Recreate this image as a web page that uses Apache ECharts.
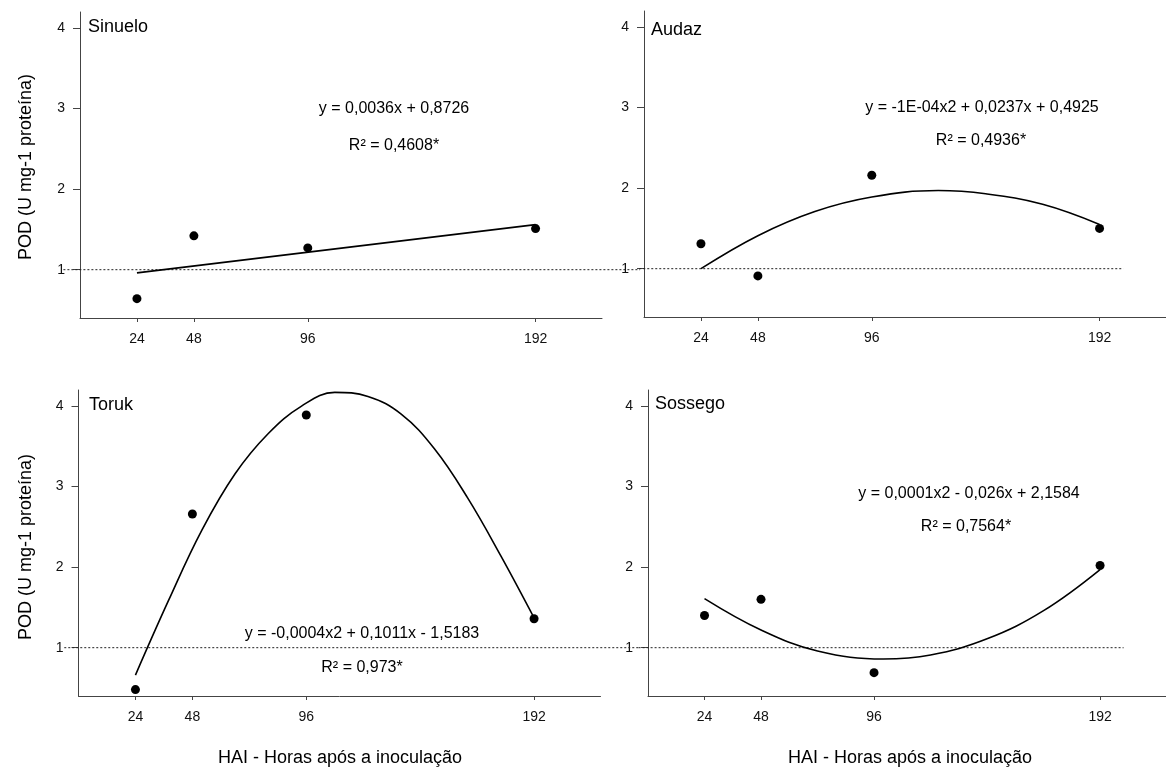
<!DOCTYPE html>
<html>
<head>
<meta charset="utf-8">
<script src="https://cdn.jsdelivr.net/npm/echarts@6/dist/echarts.min.js"></script>
<style>
  html, body { margin: 0; padding: 0; background: #fff; }
  #main { width: 1166px; height: 769px; }
</style>
</head>
<body>
<div id="main"></div>
<script>
// measured points
const hours = [24, 48, 96, 192];
const sinuelo = [0.64, 1.42, 1.27, 1.51];
const audaz = [1.31, 0.91, 2.16, 1.50];
const toruk = [0.48, 2.66, 3.89, 1.36];
const sossego = [1.40, 1.60, 0.69, 2.02];

// fitted curves
const sinueloFitX = [24, 192];
const sinueloFitY = [0.96, 1.56];
const audazFitX = [24, 48, 72, 96, 124, 144, 168, 192];
const audazFitY = [1.00, 1.41, 1.71, 1.89, 1.97, 1.93, 1.80, 1.55];
const torukFitX = [24, 38, 52, 66, 80, 94, 108, 122, 136, 150, 164, 178, 192];
const torukFitY = [0.66, 1.59, 2.46, 3.16, 3.66, 4.00, 4.17, 4.12, 3.90, 3.47, 2.86, 2.14, 1.37];
const sossegoFitX = [24, 48, 72, 100, 120, 144, 168, 192];
const sossegoFitY = [1.61, 1.22, 0.96, 0.86, 0.91, 1.11, 1.46, 1.97];

// dotted reference line at y = 1 (x extent in hours of each panel)
const refY = 1;
const refX = [[-7, 236], [-2, 202], [-6, 236], [-4, 202]];

const xTicks = [24, 48, 96, 192];
const yTicks = [1, 2, 3, 4];
const names = ['Sinuelo', 'Audaz', 'Toruk', 'Sossego'];
const equations = [
  'y = 0,0036x + 0,8726',
  'y = -1E-04x2 + 0,0237x + 0,4925',
  'y = -0,0004x2 + 0,1011x - 1,5183',
  'y = 0,0001x2 - 0,026x + 2,1584'
];
const r2 = ['R² = 0,4608*', 'R² = 0,4936*', 'R² = 0,973*', 'R² = 0,7564*'];
const yTitle = 'POD (U mg-1 proteína)';
const xTitle = 'HAI - Horas após a inoculação';

const FONT = '"Liberation Sans", Arial, sans-serif';
const points = [sinuelo, audaz, toruk, sossego];
const fitX = [sinueloFitX, audazFitX, torukFitX, sossegoFitX];
const fitY = [sinueloFitY, audazFitY, torukFitY, sossegoFitY];

const grids = [
  { left: 80, top: 12, width: 522, height: 306 },
  { left: 644, top: 11, width: 522, height: 306 },
  { left: 78.5, top: 390, width: 522, height: 306 },
  { left: 648, top: 390, width: 522, height: 306 }
];

const xAxes = grids.map((g, i) => ({
  type: 'value', gridIndex: i, min: 0, max: 220,
  axisLine: { lineStyle: { color: '#444', width: 1 } },
  axisTick: { customValues: xTicks, length: 4, lineStyle: { color: '#444' } },
  axisLabel: { customValues: xTicks, color: '#111', fontSize: 14, fontFamily: FONT, margin: 14 },
  splitLine: { show: false }
}));

const yAxes = grids.map((g, i) => ({
  type: 'value', gridIndex: i, min: 0.4, max: 4.2,
  axisLine: { show: true, lineStyle: { color: '#444', width: 1 } },
  axisTick: { show: true, customValues: yTicks, length: 7, lineStyle: { color: '#444' } },
  axisLabel: { customValues: yTicks, color: '#111', fontSize: 14, fontFamily: FONT, margin: 15 },
  splitLine: { show: false }
}));

// dashed line drawn through the axis scale, allowed to run past the grid
function refLine(params, api) {
  const p0 = api.coord([api.value(0), api.value(2)]);
  const p1 = api.coord([api.value(1), api.value(2)]);
  return {
    type: 'line',
    shape: { x1: p0[0], y1: p0[1], x2: p1[0], y2: p1[1] },
    style: { stroke: '#222', lineWidth: 1, lineDash: [2, 2] }
  };
}

const series = [];
points.forEach((vals, i) => {
  series.push({
    type: 'custom', xAxisIndex: i, yAxisIndex: i, clip: false, silent: true,
    renderItem: refLine, data: [[refX[i][0], refX[i][1], refY]], z: 1
  });
  series.push({
    type: 'line', xAxisIndex: i, yAxisIndex: i, smooth: 0.4,
    data: fitX[i].map((x, k) => [x, fitY[i][k]]), showSymbol: false,
    lineStyle: { color: '#000', width: 1.6 }, z: 2
  });
  series.push({
    type: 'scatter', xAxisIndex: i, yAxisIndex: i,
    data: hours.map((h, k) => [h, vals[k]]),
    symbolSize: 9, itemStyle: { color: '#000', opacity: 1 }, z: 3
  });
});

// text positions (px)
const nameAt = [[88, 27], [651, 30], [89, 405], [655, 404]];
const eqAt = [[394, 109], [982, 108], [362, 634], [969, 494]];
const r2At = [[394, 146], [981, 141], [362, 668], [966, 527]];

const graphics = [];
names.forEach((n, i) => {
  graphics.push({ type: 'text', x: nameAt[i][0], y: nameAt[i][1],
    style: { text: n, fontSize: 18, fontFamily: FONT, fill: '#000', verticalAlign: 'middle' } });
  graphics.push({ type: 'text', x: eqAt[i][0], y: eqAt[i][1],
    style: { text: equations[i], fontSize: 16, fontFamily: FONT, fill: '#000', align: 'center', verticalAlign: 'middle' } });
  graphics.push({ type: 'text', x: r2At[i][0], y: r2At[i][1],
    style: { text: r2[i], fontSize: 16, fontFamily: FONT, fill: '#000', align: 'center', verticalAlign: 'middle' } });
});
[[26, 167], [26, 547]].forEach(p => {
  graphics.push({ type: 'text', x: p[0], y: p[1], rotation: Math.PI / 2,
    style: { text: yTitle, fontSize: 18, fontFamily: FONT, fill: '#000', align: 'center', verticalAlign: 'middle' } });
});
[[340, 758], [910, 758]].forEach(p => {
  graphics.push({ type: 'text', x: p[0], y: p[1],
    style: { text: xTitle, fontSize: 18, fontFamily: FONT, fill: '#000', align: 'center', verticalAlign: 'middle' } });
});

const myChart = echarts.init(document.getElementById('main'));
myChart.setOption({
  animation: false,
  backgroundColor: '#fff',
  grid: grids,
  xAxis: xAxes,
  yAxis: yAxes,
  series: series,
  graphic: graphics
});
</script>
</body>
</html>
